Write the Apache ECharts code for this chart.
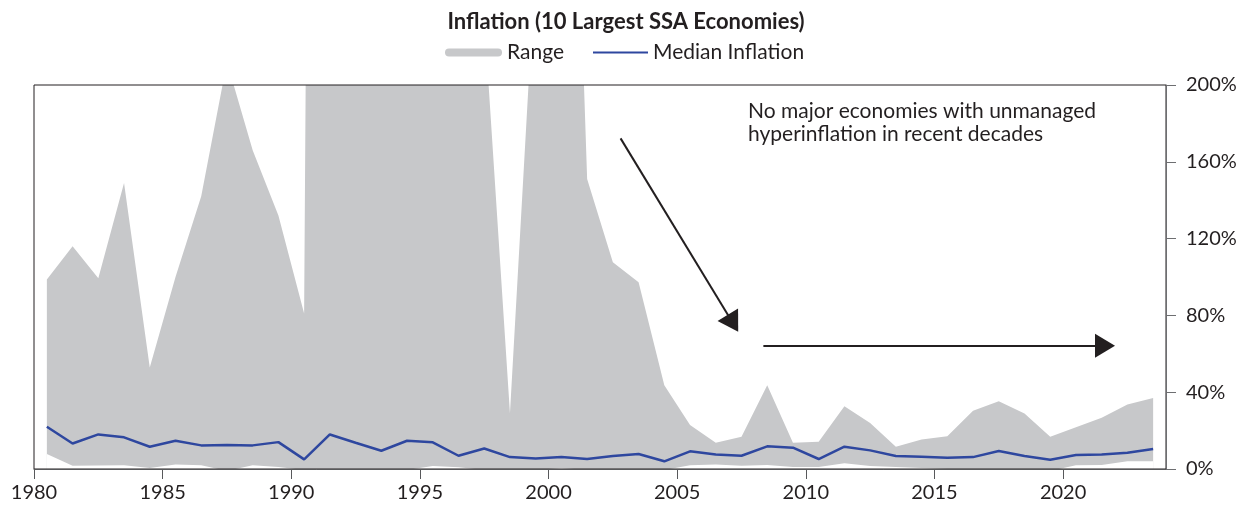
<!DOCTYPE html>
<html>
<head>
<meta charset="utf-8">
<title>Inflation (10 Largest SSA Economies)</title>
<script src="https://cdn.jsdelivr.net/npm/echarts@6/dist/echarts.min.js"></script>
</head>
<body style="margin:0;background:#fff">
<div id="chart" style="width:1252px;height:508px"></div>
<script type="text/javascript">
// data (points sit in the middle of each year)
var years = [1980, 1981, 1982, 1983, 1984, 1985, 1986, 1987, 1988, 1989,
             1990, 1991, 1992, 1993, 1994, 1995, 1996, 1997, 1998, 1999,
             2000, 2001, 2002, 2003, 2004, 2005, 2006, 2007, 2008, 2009,
             2010, 2011, 2012, 2013, 2014, 2015, 2016, 2017, 2018, 2019,
             2020, 2021, 2022, 2023];
// top of the range (%), hyperinflation years run far off the chart
var rangeHigh = [98.7, 116, 99.4, 149, 52.8, 100, 142, 212, 166, 132,
                 81, 2100, 4100, 1990, 23800, 540, 4150, 235, 29, 266,
                 550, 151, 107.7, 97.3, 43.6, 22.9, 13.7, 16.8, 43.6, 13.7,
                 14.2, 32.7, 24, 11.6, 15.4, 17.1, 30.3, 35.3, 28.9, 16.8,
                 21.7, 26.7, 33.6, 37];
// bottom of the range (%)
var rangeLow = [7.8, 1.7, 1.8, 1.9, 0.5, 2.3, 2.0, -1.0, 2.0, 1.0,
                -0.5, -1.0, -2.0, -1.0, -0.5, 1.6, 0.9, -0.5, -1.0, -0.5,
                0.5, -0.5, -1.0, -0.5, -0.5, 1.9, 2.3, 1.7, 2.1, 1.0,
                1.0, 3.0, 1.5, 1.0, 0.5, 0.0, -0.5, 0.0, -0.5, -1.0,
                2.0, 2.1, 4.1, 4.0];
var median = [22.0, 13.3, 18.0, 16.5, 11.6, 14.7, 12.3, 12.5, 12.3, 14.0,
              5.0, 18.0, 13.7, 9.5, 14.7, 13.9, 6.9, 10.7, 6.2, 5.5,
              6.2, 5.2, 6.75, 7.8, 4.0, 9.2, 7.6, 6.9, 11.8, 11.1,
              5.2, 11.6, 9.7, 6.75, 6.4, 5.9, 6.2, 9.35, 6.75, 4.85,
              7.3, 7.6, 8.5, 10.4];
// arrows of the note, in data units [year, %]
var arrowDown = [[2002.80, 172.2], [2007.17, 75.9]];
var arrowRight = [[2008.35, 64.2], [2021.63, 64.2]];

var FONT = 'Lato';
var INK = '#231f20';
var GREY = '#c7c8ca';
var BLUE = '#2e479f';

var highData = [], lowData = [], medData = [];
for (var i = 0; i < years.length; i++) {
  highData.push([years[i] + 0.5, rangeHigh[i]]);
  lowData.push([years[i] + 0.5, rangeLow[i]]);
  medData.push([years[i] + 0.5, median[i]]);
}

var myChart = echarts.init(document.getElementById('chart'));
myChart.setOption({
  animation: false,
  title: {
    text: 'Inflation (10 Largest SSA Economies)',
    left: 'center', top: 6,
    textStyle: { fontFamily: FONT, fontWeight: 'bold', fontSize: 22, color: INK }
  },
  legend: [{
    data: [{ name: 'Range', icon: 'path://M4,0 H53 A4,4 0 0 1 53,8 H4 A4,4 0 0 1 4,0 Z', itemStyle: { color: GREY } }],
    left: 440, top: 37, itemWidth: 57, itemHeight: 8,
    textStyle: { fontFamily: FONT, fontSize: 21, color: INK }
  }, {
    data: [{ name: 'Median Inflation', icon: 'rect', itemStyle: { color: BLUE } }],
    left: 588, top: 37, itemWidth: 55, itemHeight: 2,
    textStyle: { fontFamily: FONT, fontSize: 21, color: INK }
  }],
  grid: {
    left: 34, right: 86, top: 85, bottom: 39,
    show: true, borderColor: INK, borderWidth: 1, z: 10,
    outerBoundsMode: 'none'
  },
  xAxis: {
    type: 'value', min: 1980, max: 2024, interval: 5, z: 10,
    axisLine: { show: true, lineStyle: { color: '#58595b', width: 1 } },
    axisTick: { show: true, length: 10, lineStyle: { color: '#58595b' } },
    axisLabel: {
      fontFamily: FONT, fontSize: 20, color: INK, margin: 14, showMaxLabel: false,
      formatter: function (v) { return String(v); }
    },
    splitLine: { show: false }
  },
  yAxis: {
    type: 'value', position: 'right', min: 0, max: 200, interval: 40, z: 10,
    axisLine: { show: true, lineStyle: { color: '#6d6e71', width: 1 } },
    axisTick: { show: true, length: 10, lineStyle: { color: '#6d6e71' } },
    axisLabel: { fontFamily: FONT, fontSize: 20, color: INK, margin: 20, formatter: '{value}%' },
    splitLine: { show: false }
  },
  series: [{
    // top of the band, filled down to 0
    name: 'Range', type: 'line', data: highData,
    symbol: 'none', silent: true, z: 1,
    itemStyle: { color: GREY },
    lineStyle: { width: 0, color: GREY },
    areaStyle: { color: GREY, opacity: 1 }
  }, {
    // bottom of the band, white below it
    name: 'low', type: 'line', data: lowData,
    symbol: 'none', silent: true, z: 2,
    lineStyle: { width: 0, color: '#fff' },
    areaStyle: { color: '#fff', opacity: 1 }
  }, {
    name: 'Median Inflation', type: 'line', data: medData,
    symbol: 'none', z: 3,
    itemStyle: { color: BLUE },
    lineStyle: { color: BLUE, width: 2.5 },
    markLine: {
      silent: true,
      symbol: ['none', 'path://M0,20 L12,0 L24,20 Z'],
      symbolSize: 24,
      symbolKeepAspect: true,
      label: { show: false },
      lineStyle: { color: INK, width: 2, type: 'solid' },
      data: [
        [{ coord: arrowDown[0] }, { coord: arrowDown[1] }],
        [{ coord: arrowRight[0] }, { coord: arrowRight[1] }]
      ]
    }
  }],
  graphic: [{
    type: 'text', left: 748, top: 99,
    style: {
      text: 'No major economies with unmanaged\nhyperinflation in recent decades',
      font: '21px ' + FONT, fill: INK, lineHeight: 23.5
    }
  }]
});
</script>
</body>
</html>
